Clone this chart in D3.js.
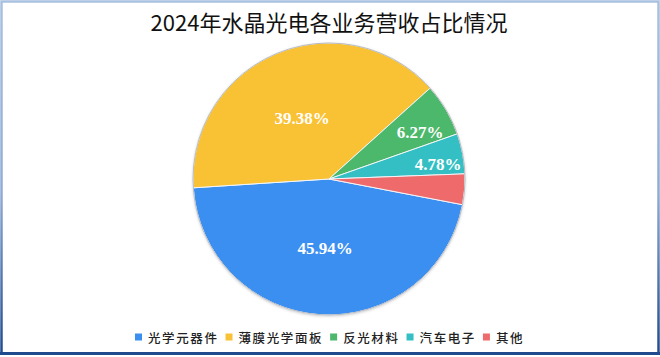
<!DOCTYPE html>
<html><head><meta charset="utf-8">
<script src="https://cdn.jsdelivr.net/npm/d3@7"></script>
<style>html,body{margin:0;padding:0;background:#fff;}svg{display:block;}</style>
</head><body>
<script>
const title = "2024年水晶光电各业务营收占比情况";
const categories = ["光学元器件", "薄膜光学面板", "反光材料", "汽车电子", "其他"];
const values = [45.94, 39.38, 6.27, 4.78, 3.63];
const labels = ["45.94%", "39.38%", "6.27%", "4.78%", ""];
const colors = ["#3b8ff0", "#f9c234", "#4cb86b", "#33bfc3", "#ef6b6b"];

const W = 660, H = 357;
const svg = d3.select("body").append("svg").attr("width", W).attr("height", H);
const defs = svg.append("defs");
const g1 = defs.append("linearGradient").attr("id", "frame").attr("x1", 0).attr("y1", 0).attr("x2", 0).attr("y2", 1);
g1.append("stop").attr("offset", "0%").attr("stop-color", "#a9c1e0");
g1.append("stop").attr("offset", "55%").attr("stop-color", "#8eabd4");
g1.append("stop").attr("offset", "100%").attr("stop-color", "#1f4a8e");
const sh = defs.append("filter").attr("id", "sh").attr("x", "-10%").attr("y", "-10%").attr("width", "120%").attr("height", "120%");
sh.append("feDropShadow").attr("dx", 0).attr("dy", 1).attr("stdDeviation", 1.5).attr("flood-color", "#000").attr("flood-opacity", 0.25);

svg.append("rect").attr("x", 0).attr("y", 0).attr("width", W).attr("height", H).attr("fill", "#fff");
svg.append("rect").attr("x", 1.5).attr("y", 1.5).attr("width", W - 3).attr("height", H - 5)
  .attr("fill", "none").attr("stroke", "url(#frame)").attr("stroke-width", 2.5);
svg.append("line").attr("x1", 0).attr("x2", W).attr("y1", 353.5).attr("y2", 353.5)
  .attr("stroke", "#1f4a8e").attr("stroke-width", 3);

svg.append("text").attr("x", 329).attr("y", 31).attr("text-anchor", "middle")
  .attr("font-family", "'Noto Sans CJK SC', sans-serif").attr("font-size", 22).attr("font-weight", 400)
  .attr("fill", "#111").text(title);

const cx = 329, cy = 179, r = 136;
const start = 100.9 * Math.PI / 180;
const pie = d3.pie().sort(null).value(d => d).startAngle(start).endAngle(start + 2 * Math.PI);
const arcs = pie(values);
const arc = d3.arc().innerRadius(0).outerRadius(r);
const gp = svg.append("g").attr("transform", `translate(${cx},${cy})`);
gp.append("circle").attr("r", r).attr("fill", "#fff").attr("filter", "url(#sh)");
gp.selectAll("path").data(arcs).join("path")
  .attr("d", arc).attr("fill", (d, i) => colors[i])
  .attr("stroke", "#f2f5f9").attr("stroke-width", 1);
gp.append("circle").attr("r", r).attr("fill", "none").attr("stroke", "#b9bcc2").attr("stroke-width", 1);

// label offsets from pie centre (as placed in the reference)
const labelPos = [[-4, 69], [-27, -61], [91, -47], [109, -15], [0, 0]];
gp.selectAll("text.lbl").data(arcs).join("text").attr("class", "lbl")
  .attr("x", (d, i) => labelPos[i][0])
  .attr("y", (d, i) => labelPos[i][1])
  .attr("text-anchor", "middle").attr("dominant-baseline", "central")
  .attr("font-family", "'Liberation Serif', 'Times New Roman', serif").attr("font-weight", "bold")
  .attr("font-size", 17).attr("fill", "#fff")
  .text((d, i) => labels[i]);

// legend
const lg = svg.append("g");
const legY = 337;
let x = 135;
categories.forEach((c, i) => {
  lg.append("rect").attr("x", x).attr("y", legY - 3.5).attr("width", 7).attr("height", 7).attr("fill", colors[i]);
  const t = lg.append("text").attr("x", x + 13).attr("y", legY).attr("dominant-baseline", "central")
    .attr("font-family", "'Noto Sans CJK SC', sans-serif").attr("font-size", 12.5).attr("font-weight", 500)
    .attr("letter-spacing", 1.6).attr("fill", "#222").text(c);
  const w = t.node().getComputedTextLength();
  x = x + 13 + w + 7;
});
</script>
</body></html>
